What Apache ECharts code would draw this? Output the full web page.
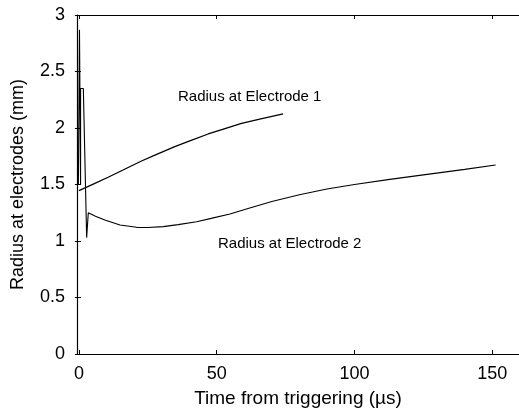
<!DOCTYPE html>
<html>
<head>
<meta charset="utf-8">
<script src="https://cdn.jsdelivr.net/npm/echarts@6/dist/echarts.min.js"></script>
<style>
html,body{margin:0;padding:0;background:#fff;}
#chart{width:519px;height:414px;}
</style>
</head>
<body>
<div id="chart"></div>
<script>
// Data
var xTicks = [0, 50, 100, 150];
var yTicks = [0, 0.5, 1, 1.5, 2, 2.5, 3];
var electrode1X = [0, 5, 10.6, 16, 22.7, 28, 34.8, 40, 46.9, 53, 59, 66, 74.1];
var electrode1Y = [1.445, 1.501, 1.564, 1.628, 1.708, 1.764, 1.835, 1.883, 1.947, 1.994, 2.04, 2.08, 2.124];
var electrode2X = [-0.2, 0.2, 0.6, 0.6, 1.6, 2.8, 3.4, 6, 9.4, 14.9, 20.9, 25, 30.6, 36, 42.7, 48, 54.8, 62, 70, 80, 90, 100, 112.8, 125, 140, 151.2];
var electrode2Y = [1.5, 2.87, 1.5, 2.35, 2.35, 1.03, 1.25, 1.22, 1.186, 1.142, 1.121, 1.12, 1.127, 1.145, 1.171, 1.2, 1.239, 1.292, 1.35, 1.41, 1.46, 1.50, 1.545, 1.585, 1.634, 1.673];
var label1 = 'Radius at Electrode 1';
var label2 = 'Radius at Electrode 2';
var xTitle = 'Time from triggering (\u00b5s)';
var yTitle = 'Radius at electrodes (mm)';

function pairs(xs, ys) { return xs.map(function (x, i) { return [x, ys[i]]; }); }

var FONT = '"Liberation Sans", Arial, Helvetica, sans-serif';
var chart = echarts.init(document.getElementById('chart'), null, {renderer: 'canvas'});
var option = {
  animation: false,
  backgroundColor: '#fff',
  grid: {left: 77, right: -0.5, top: 15, bottom: 60, containLabel: false},
  xAxis: [{
    type: 'value', min: -0.7, max: 159.7, position: 'bottom',
    axisLine: {show: true, onZero: false, lineStyle: {color: '#000', width: 1.2}},
    axisTick: {show: true, inside: true, length: 4, customValues: xTicks, lineStyle: {color: '#000'}},
    axisLabel: {show: true, customValues: xTicks, fontSize: 18, color: '#000', fontFamily: FONT, margin: 11},
    splitLine: {show: false},
    name: xTitle, nameLocation: 'middle', nameGap: 35,
    nameTextStyle: {fontSize: 19, color: '#000', fontFamily: FONT}
  }, {
    type: 'value', min: -0.7, max: 159.7, position: 'top',
    axisLine: {show: true, onZero: false, lineStyle: {color: '#000', width: 1.2}},
    axisTick: {show: true, inside: true, length: 4, customValues: xTicks, lineStyle: {color: '#000'}},
    axisLabel: {show: false},
    splitLine: {show: false}
  }],
  yAxis: [{
    type: 'value', min: 0, max: 3, interval: 0.5, position: 'left',
    axisLine: {show: true, onZero: false, lineStyle: {color: '#000', width: 1.2}},
    axisTick: {show: true, inside: true, length: 4, lineStyle: {color: '#000'}},
    axisLabel: {show: true, fontSize: 18, color: '#000', fontFamily: FONT, margin: 12},
    splitLine: {show: false},
    name: yTitle, nameLocation: 'middle', nameGap: 50, nameRotate: 90,
    nameTextStyle: {fontSize: 18, color: '#000', fontFamily: FONT}
  }, {
    type: 'value', min: 0, max: 3, interval: 0.5, position: 'right',
    axisLine: {show: false},
    axisTick: {show: true, inside: true, length: 4, lineStyle: {color: '#000'}},
    axisLabel: {show: false},
    splitLine: {show: false}
  }],
  series: [{
    name: label1, type: 'line', xAxisIndex: 0, yAxisIndex: 0,
    data: pairs(electrode1X, electrode1Y), showSymbol: false, smooth: false,
    lineStyle: {color: '#000', width: 1.3}
  }, {
    name: label2, type: 'line', xAxisIndex: 0, yAxisIndex: 0,
    data: pairs(electrode2X, electrode2Y), showSymbol: false, smooth: false,
    lineStyle: {color: '#000', width: 1.1}
  }],
  graphic: [
    {type: 'text', left: 178, top: 89, style: {text: label1, fontSize: 15, fill: '#000', fontFamily: FONT}},
    {type: 'text', left: 218, top: 236, style: {text: label2, fontSize: 15, fill: '#000', fontFamily: FONT}}
  ]
};
chart.setOption(option);
</script>
</body>
</html>
